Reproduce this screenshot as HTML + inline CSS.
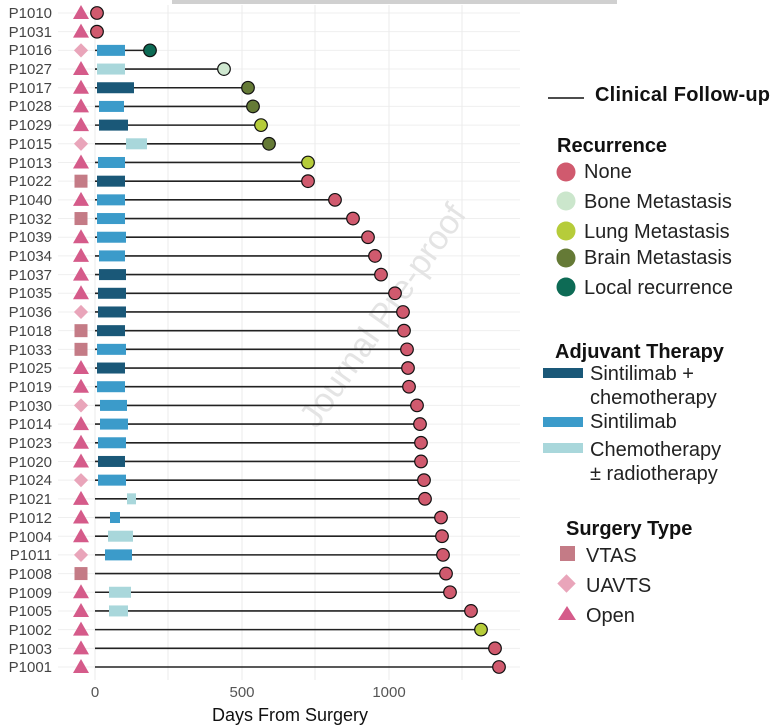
<!DOCTYPE html>
<html><head><meta charset="utf-8"><style>
body{margin:0;background:#fff}
svg{display:block;font-family:"Liberation Sans",Arial,sans-serif}
</style></head><body>
<svg id="s" width="781" height="728" viewBox="0 0 781 728" xmlns="http://www.w3.org/2000/svg">
<rect x="172" y="0" width="445" height="4" fill="#d0d0d0"/>
<g id="grid"></g>
<text x="392" y="322" font-size="34" fill="#e4e4e4" transform="rotate(-55 392 322)" text-anchor="middle">Journal Pre-proof</text>
<g id="plot"></g>
<g font-size="15" fill="#444" text-anchor="end" id="ylab">
<text x="52" y="18">P1010</text><text x="52" y="37">P1031</text><text x="52" y="55">P1016</text><text x="52" y="74">P1027</text><text x="52" y="93">P1017</text><text x="52" y="111">P1028</text><text x="52" y="130">P1029</text><text x="52" y="149">P1015</text><text x="52" y="168">P1013</text><text x="52" y="186">P1022</text><text x="52" y="205">P1040</text><text x="52" y="224">P1032</text><text x="52" y="242">P1039</text><text x="52" y="261">P1034</text><text x="52" y="280">P1037</text><text x="52" y="298">P1035</text><text x="52" y="317">P1036</text><text x="52" y="336">P1018</text><text x="52" y="355">P1033</text><text x="52" y="373">P1025</text><text x="52" y="392">P1019</text><text x="52" y="411">P1030</text><text x="52" y="429">P1014</text><text x="52" y="448">P1023</text><text x="52" y="467">P1020</text><text x="52" y="485">P1024</text><text x="52" y="504">P1021</text><text x="52" y="523">P1012</text><text x="52" y="542">P1004</text><text x="52" y="560">P1011</text><text x="52" y="579">P1008</text><text x="52" y="598">P1009</text><text x="52" y="616">P1005</text><text x="52" y="635">P1002</text><text x="52" y="654">P1003</text><text x="52" y="672">P1001</text>
</g>
<g font-size="15" fill="#555" text-anchor="middle">
<text x="95" y="697">0</text><text x="242" y="697">500</text><text x="389" y="697">1000</text>
</g>
<text x="290" y="721" font-size="18" fill="#111" text-anchor="middle">Days From Surgery</text>
<line x1="548" y1="98" x2="584" y2="98" stroke="#111" stroke-width="1.5"/>
<text x="595" y="101" font-size="20" font-weight="bold" fill="#111" textLength="175">Clinical Follow-up</text>
<text x="557" y="152" font-size="20" font-weight="bold" fill="#111">Recurrence</text>
<g font-size="20" fill="#222">
<circle cx="566" cy="172" r="9.5" fill="#d05a6e"/><text x="584" y="178">None</text>
<circle cx="566" cy="201" r="9.5" fill="#cbe6cc"/><text x="584" y="208">Bone Metastasis</text>
<circle cx="566" cy="231" r="9.5" fill="#b6cc3a"/><text x="584" y="238">Lung Metastasis</text>
<circle cx="566" cy="258" r="9.5" fill="#657a36"/><text x="584" y="264">Brain Metastasis</text>
<circle cx="566" cy="287" r="9.5" fill="#0d6b55"/><text x="584" y="294">Local recurrence</text>
</g>
<text x="555" y="358" font-size="20" font-weight="bold" fill="#111">Adjuvant Therapy</text>
<g font-size="20" fill="#222">
<rect x="543" y="368" width="40" height="10" fill="#1a5878"/><text x="590" y="380">Sintilimab +</text><text x="590" y="404">chemotherapy</text>
<rect x="543" y="417" width="40" height="10" fill="#3b9bca"/><text x="590" y="428">Sintilimab</text>
<rect x="543" y="443" width="40" height="10" fill="#a9d7db"/><text x="590" y="456">Chemotherapy</text><text x="590" y="480">± radiotherapy</text>
</g>
<text x="566" y="535" font-size="20" font-weight="bold" fill="#111">Surgery Type</text>
<g font-size="20" fill="#222">
<rect x="560" y="546" width="15" height="15" fill="#c47b86"/><text x="586" y="562">VTAS</text>
<rect x="560" y="577" width="13" height="13" fill="#e9a5ba" transform="rotate(45 566.5 583.5)"/><text x="586" y="592">UAVTS</text>
<polygon points="567,606 576,620 558,620" fill="#d55b8a"/><text x="586" y="622">Open</text>
</g>
<script>
(function(){
var NS="http://www.w3.org/2000/svg";
function el(p,t,a){var e=document.createElementNS(NS,t);for(var k in a)e.setAttribute(k,a[k]);p.appendChild(e);return e;}
var g=document.getElementById('grid'),p=document.getElementById('plot');
var y0=13,dy=(667-13)/35;
for(var i=0;i<36;i++)el(g,'line',{x1:58,x2:520,y1:y0+i*dy,y2:y0+i*dy,stroke:'#efefef','stroke-width':1});
[95,168,242,315,389,462].forEach(function(x){el(g,'line',{x1:x,x2:x,y1:5,y2:680,stroke:'#ebebeb','stroke-width':1});});
var C={N:'#d05a6e',B:'#cfe8d0',L:'#b6cc3a',R:'#657a36',O:'#0d6b55'};
var T={D:'#1a5878',M:'#3b9bca',L:'#a9d7db'};
var d=[
['t',97,'N'],['t',97,'N'],['d',150,'O',[97,125,'M']],['t',224,'B',[97,125,'L']],
['t',248,'R',[97,134,'D']],['t',253,'R',[99,124,'M']],['t',261,'L',[99,128,'D']],['d',269,'R',[126,147,'L']],
['t',308,'L',[98,125,'M']],['s',308,'N',[97,125,'D']],['t',335,'N',[97,125,'M']],['s',353,'N',[97,125,'M']],
['t',368,'N',[97,126,'M']],['t',375,'N',[99,125,'M']],['t',381,'N',[99,126,'D']],['t',395,'N',[98,126,'D']],
['d',403,'N',[98,126,'D']],['s',404,'N',[97,125,'D']],['s',407,'N',[97,126,'M']],['t',408,'N',[97,125,'D']],
['t',409,'N',[97,125,'M']],['d',417,'N',[100,127,'M']],['t',420,'N',[100,128,'M']],['t',421,'N',[98,126,'M']],
['t',421,'N',[98,125,'D']],['d',424,'N',[98,126,'M']],['t',425,'N',[127,136,'L']],['t',441,'N',[110,120,'M']],
['t',442,'N',[108,133,'L']],['d',443,'N',[105,132,'M']],['s',446,'N'],['t',450,'N',[109,131,'L']],
['t',471,'N',[109,128,'L']],['t',481,'L'],['t',495,'N'],['t',499,'N']];
d.forEach(function(r,i){
 var y=y0+i*dy;
 if(r[1]>100)el(p,'line',{x1:95,x2:r[1],y1:y,y2:y,stroke:'#222','stroke-width':1.6});
 if(r[3])el(p,'rect',{x:r[3][0],y:y-5.5,width:r[3][1]-r[3][0],height:11,fill:T[r[3][2]]});
 el(p,'circle',{cx:r[1],cy:y,r:6.3,fill:C[r[2]],stroke:'#111','stroke-width':1.2});
 var x=81;
 if(r[0]=='t')el(p,'polygon',{points:x+','+(y-8)+' '+(x+8)+','+(y+6)+' '+(x-8)+','+(y+6),fill:'#d55b8a'});
 else if(r[0]=='s')el(p,'rect',{x:x-6.5,y:y-6.5,width:13,height:13,fill:'#c47b86'});
 else el(p,'rect',{x:x-5,y:y-5,width:10,height:10,fill:'#e9a5ba',transform:'rotate(45 '+x+' '+y+')'});
});
})();
</script>
</svg>
</body></html>
